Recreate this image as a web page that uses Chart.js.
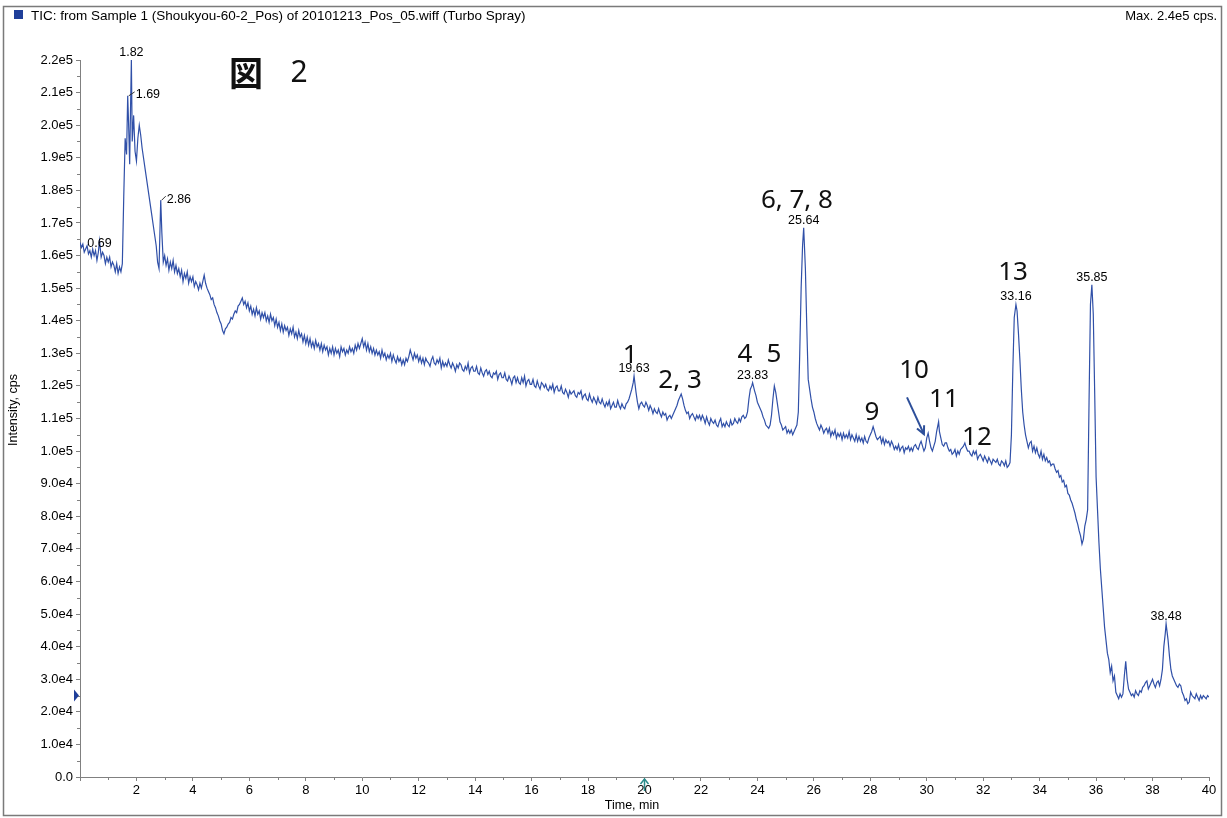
<!DOCTYPE html>
<html><head><meta charset="utf-8">
<script src="https://cdn.jsdelivr.net/npm/chart.js@4.4.1/dist/chart.umd.min.js"></script>
<style>html,body{margin:0;padding:0;background:#fff}#wrap{position:relative;width:1227px;height:818px}</style>
</head><body><div id="wrap"><canvas id="c" width="1227" height="818"></canvas></div>
<script>
// ---- Data (retention time in min, TIC intensity in thousands of cps) ----
const timeMin = [
 0.0,0.05,0.1,0.15,0.2,0.25,0.3,0.35,0.4,0.45,
 0.5,0.55,0.6,0.65,0.69,0.75,0.8,0.85,0.9,0.95,
 1.0,1.05,1.1,1.15,1.2,1.25,1.3,1.35,1.4,1.45,
 1.5,1.55,1.6,1.65,1.69,1.72,1.76,1.79,1.82,1.85,1.9,1.95,
 2.0,2.05,2.1,2.15,2.2,2.25,2.3,2.35,2.4,2.45,
 2.5,2.55,2.6,2.65,2.7,2.75,2.8,2.86,2.9,2.95,
 3.0,3.05,3.1,3.15,3.2,3.25,3.3,3.35,3.4,3.45,
 3.5,3.55,3.6,3.65,3.7,3.75,3.8,3.85,3.9,3.95,
 4.0,4.05,4.1,4.15,4.2,4.25,4.3,4.35,4.4,4.45,
 4.5,4.55,4.6,4.65,4.7,4.75,4.8,4.85,4.9,4.95,
 5.0,5.05,5.1,5.15,5.2,5.25,5.3,5.35,5.4,5.45,
 5.5,5.55,5.6,5.65,5.7,5.75,5.8,5.85,5.9,5.95,
 6.0,6.05,6.1,6.15,6.2,6.25,6.3,6.35,6.4,6.45,
 6.5,6.55,6.6,6.65,6.7,6.75,6.8,6.85,6.9,6.95,
 7.0,7.05,7.1,7.15,7.2,7.25,7.3,7.35,7.4,7.45,
 7.5,7.55,7.6,7.65,7.7,7.75,7.8,7.85,7.9,7.95,
 8.0,8.05,8.1,8.15,8.2,8.25,8.3,8.35,8.4,8.45,
 8.5,8.55,8.6,8.65,8.7,8.75,8.8,8.85,8.9,8.95,
 9.0,9.05,9.1,9.15,9.2,9.25,9.3,9.35,9.4,9.45,
 9.5,9.55,9.6,9.65,9.7,9.75,9.8,9.85,9.9,9.95,
 10.0,10.05,10.1,10.15,10.2,10.25,10.3,10.35,10.4,10.45,
 10.5,10.55,10.6,10.65,10.7,10.75,10.8,10.85,10.9,10.95,
 11.0,11.05,11.1,11.15,11.2,11.25,11.3,11.35,11.4,11.45,
 11.5,11.55,11.6,11.65,11.7,11.75,11.8,11.85,11.9,11.95,
 12.0,12.05,12.1,12.15,12.2,12.25,12.3,12.35,12.4,12.45,
 12.5,12.55,12.6,12.65,12.7,12.75,12.8,12.85,12.9,12.95,
 13.0,13.05,13.1,13.15,13.2,13.25,13.3,13.35,13.4,13.45,
 13.5,13.55,13.6,13.65,13.7,13.75,13.8,13.85,13.9,13.95,
 14.0,14.05,14.1,14.15,14.2,14.25,14.3,14.35,14.4,14.45,
 14.5,14.55,14.6,14.65,14.7,14.75,14.8,14.85,14.9,14.95,
 15.0,15.05,15.1,15.15,15.2,15.25,15.3,15.35,15.4,15.45,
 15.5,15.55,15.6,15.65,15.7,15.75,15.8,15.85,15.9,15.95,
 16.0,16.05,16.1,16.15,16.2,16.25,16.3,16.35,16.4,16.45,
 16.5,16.55,16.6,16.65,16.7,16.75,16.8,16.85,16.9,16.95,
 17.0,17.05,17.1,17.15,17.2,17.25,17.3,17.35,17.4,17.45,
 17.5,17.55,17.6,17.65,17.7,17.75,17.8,17.85,17.9,17.95,
 18.0,18.05,18.1,18.15,18.2,18.25,18.3,18.35,18.4,18.45,
 18.5,18.55,18.6,18.65,18.7,18.75,18.8,18.85,18.9,18.95,
 19.0,19.05,19.1,19.15,19.2,19.25,19.3,19.35,19.4,19.45,
 19.5,19.55,19.6,19.63,19.7,19.75,19.8,19.85,19.9,19.95,
 20.0,20.05,20.1,20.15,20.2,20.25,20.3,20.35,20.4,20.45,
 20.5,20.55,20.6,20.65,20.7,20.75,20.8,20.85,20.9,20.95,
 21.0,21.05,21.1,21.15,21.2,21.25,21.3,21.35,21.4,21.45,
 21.5,21.55,21.6,21.65,21.7,21.75,21.8,21.85,21.9,21.95,
 22.0,22.05,22.1,22.15,22.2,22.25,22.3,22.35,22.4,22.45,
 22.5,22.55,22.6,22.65,22.7,22.75,22.8,22.85,22.9,22.95,
 23.0,23.05,23.1,23.15,23.2,23.25,23.3,23.35,23.4,23.45,
 23.5,23.55,23.6,23.65,23.7,23.75,23.8,23.83,23.9,23.95,
 24.0,24.05,24.1,24.15,24.2,24.25,24.3,24.35,24.4,24.45,
 24.5,24.55,24.6,24.65,24.7,24.75,24.8,24.85,24.9,24.95,
 25.0,25.05,25.1,25.15,25.2,25.25,25.3,25.35,25.4,25.45,
 25.5,25.55,25.6,25.64,25.7,25.75,25.8,25.85,25.9,25.95,
 26.0,26.05,26.1,26.15,26.2,26.25,26.3,26.35,26.4,26.45,
 26.5,26.55,26.6,26.65,26.7,26.75,26.8,26.85,26.9,26.95,
 27.0,27.05,27.1,27.15,27.2,27.25,27.3,27.35,27.4,27.45,
 27.5,27.55,27.6,27.65,27.7,27.75,27.8,27.85,27.9,27.95,
 28.0,28.05,28.1,28.15,28.2,28.25,28.3,28.35,28.4,28.45,
 28.5,28.55,28.6,28.65,28.7,28.75,28.8,28.85,28.9,28.95,
 29.0,29.05,29.1,29.15,29.2,29.25,29.3,29.35,29.4,29.45,
 29.5,29.55,29.6,29.65,29.7,29.75,29.8,29.85,29.9,29.95,
 30.0,30.05,30.1,30.15,30.2,30.25,30.3,30.35,30.42,30.45,
 30.5,30.55,30.6,30.65,30.7,30.75,30.8,30.85,30.9,30.95,
 31.0,31.05,31.1,31.15,31.2,31.25,31.3,31.35,31.4,31.45,
 31.5,31.55,31.6,31.65,31.7,31.75,31.8,31.85,31.9,31.95,
 32.0,32.05,32.1,32.15,32.2,32.25,32.3,32.35,32.4,32.45,
 32.5,32.55,32.6,32.65,32.7,32.75,32.8,32.85,32.9,32.95,
 33.0,33.05,33.1,33.16,33.2,33.25,33.3,33.35,33.4,33.45,
 33.5,33.55,33.6,33.65,33.7,33.75,33.8,33.85,33.9,33.95,
 34.0,34.05,34.1,34.15,34.2,34.25,34.3,34.35,34.4,34.45,
 34.5,34.55,34.6,34.65,34.7,34.75,34.8,34.85,34.9,34.95,
 35.0,35.05,35.1,35.15,35.2,35.25,35.3,35.35,35.4,35.45,
 35.5,35.55,35.6,35.65,35.7,35.75,35.8,35.85,35.9,35.95,
 36.0,36.05,36.1,36.15,36.2,36.25,36.3,36.35,36.4,36.45,
 36.5,36.55,36.6,36.65,36.7,36.75,36.8,36.85,36.9,36.95,
 37.0,37.05,37.1,37.15,37.2,37.25,37.3,37.35,37.4,37.45,
 37.5,37.55,37.6,37.65,37.7,37.75,37.8,37.85,37.9,37.95,
 38.0,38.05,38.1,38.15,38.2,38.25,38.3,38.35,38.4,38.45,
 38.48,38.55,38.6,38.65,38.7,38.75,38.8,38.85,38.9,38.95,
 39.0,39.05,39.1,39.15,39.2,39.25,39.3,39.35,39.4,39.45,
 39.5,39.55,39.6,39.65,39.7,39.75,39.8,39.85,39.9,39.95,
 40.0
];
const ticKcps = [
 164,162.5,163.5,161,162,163,160.5,161.5,159.5,162,
 160,161.5,158.5,161,164.5,159.5,161,160,157.5,159.5,
 158,159.5,156.5,158,157,155,157.5,154.5,156.5,155,
 157.5,178,196,191,209,201,188,205,220,195,203,192,
 189,196,200,197,193,190,187,184,181,178,
 175,172,169,166,163,158,156,177,167,158,
 160,157,159,155.5,158,156,158.5,155,157,154.5,
 156,153.5,155.5,152,154.5,153,155,151.5,153.5,152,
 153.5,150.5,152,151,149.5,151.5,150,152,154,151.5,
 150,149,148,146.5,147,145,144,142.5,141.5,140,
 139,137,136,137.5,138,139,139.5,141,140.5,142,
 143,142.5,144.5,145,146,147,145,146,144,145.5,
 143,144.5,142,143.5,141.5,144,142,143,140.5,142.5,
 141,142.5,140,141.5,139.5,142,140,141,138.5,140.5,
 138,139.5,137,139,136.5,138.5,137,138,135.5,137.5,
 136,138,135,136.5,134.5,137,135,136,133.5,135.5,
 133,135,132.5,134.5,132,133.5,131.5,134,132,133,
 131,133,130.5,132.5,131,132,129.5,131.5,130,132,
 129.5,131.5,130,131,129,132,130.5,131.5,129.5,131,
 130,132,130.5,131.5,130,132.5,131,133,131.5,133,
 134.5,132,133.5,131,133,130.5,132,130,131.5,129.5,
 131,129.5,130.5,128.5,131,129,130,128,129.5,128.5,
 130,127.5,129.5,128,127,129,127.5,128.5,126.5,128,
 126.5,128.5,127.5,129,131,129.5,128,130,128.5,129.5,
 127.5,129,127,128.5,126.5,128.5,127.5,127,126,128,
 129,127,126.5,128,127,128.5,125.5,127.5,126,127,
 126,128,126.5,125.5,127,126,124.5,126.5,125.5,127,
 126.5,125,124.5,126,125,127,124,125.5,126,124.5,
 124.5,126,124,123.5,125.5,124,123,124.5,125,123.5,
 124.5,123,122.5,124,123.5,124.5,122,123.5,124,122.5,
 122.5,124,122,121.5,123,122,120.5,122.5,123,121,
 122.5,121,120.5,122.5,121,123,120,121.5,122,120.5,
 120.5,122,120,119.5,121.5,120,119,121,120.5,119.5,
 120.5,119,118.5,120,119,120.5,118,119.5,120,118.5,
 118.5,120,118,117.5,119,118,116.5,118.5,117.5,118,
 118.5,117,116.5,118,117.5,118.5,116,117,117.5,116,
 115.5,117.5,116,115,116.5,115.5,114.5,116.5,115,114.5,
 116,114.5,113.5,115,114,115.5,113,114,115,113.5,
 113.5,115.5,114,113,114.5,113.5,113,114.5,115,116,
 117.5,119,121,123,118,115,113,114.5,115,114,
 113.5,115,114,112.5,114,113,111.5,113,112,111.5,
 113,111.5,110.5,112,111,111.5,109.5,110.5,111,110,
 111,112,113,114,115.5,116.5,117.5,116,114,112.5,
 111.5,112,110,111,111.5,110.5,109.5,111,110,111,
 109.5,111,110,108.5,110.5,109,108,110,109,108.5,
 109.5,108,107.5,109,110,107.5,108.5,107.5,109,108,
 107.5,109.5,108,108.5,110,109,108.5,110,109,110.5,
 111,110,110.5,112,116,119,120,121,118.5,117,
 115,114,113,112,110.5,109.5,108,107.5,107,108,
 111,116,120,118,115,112,109,108,106.5,107,
 107.5,105.5,106.5,105.5,106.5,105,106,107,108,112,
 130,150,163,168.5,156,138,122,119,116,113.5,
 112,110,108.5,107.5,106.5,108,107,105.5,106.5,107,
 105.5,107,104.5,106,105,106.5,104,105.5,104.5,105.5,
 103.5,105.5,104,105,104,106,103.5,105,104,103,
 105,103,104.5,103,104,102.5,104.5,103,102.5,104,
 105,106,107.5,106,104.5,103.5,104,104.5,102.5,104,
 102,103.5,102.5,103,101.5,103,102,100.5,101.5,100.5,
 102,100,101,101.5,99.5,101,100.5,101.5,100,101,
 100,101.5,102,101,100.5,102,103,101.5,100,101,
 104,105.5,103,101,100,101.5,103,106,109,106,
 104,102,101.5,102.5,102.5,101,100,100.5,99,99.5,
 100.5,98.5,100,99,100.5,101,101.5,102.5,101,100,
 100,99,98.5,100,99,100,97.5,98.5,99,98,
 97,98.5,97.5,96.5,98,97,96,97.5,97,96.5,
 97.5,96,95.5,97,96.5,95.5,97,95,95.5,96.5,
 105,125,141,145,143,136,128,119,112,108,
 105,103,101,102.5,103,100,101.5,99.5,101,99,
 98,100,97.5,99,97,98,96.5,97,95.5,96,
 96,94.5,93.5,94,92,92.5,90.5,91,89,89.5,
 87,86.5,85,84,82.5,81,79,77.5,75.5,74,
 71.5,73,77,79,82,115,145,151,142,118,
 92,82,72,64,58,52,46,42,38,36,
 32,34,29.5,31,26,25,24,25.5,24.5,25.5,
 31,35.5,30,27,26,25,25.5,24.5,26.5,25.5,
 25,26.5,26,27.5,28,29,29.5,27,28,29,
 30,28.5,27.5,29,29.5,28,30,33,40,44,
 47,42,37,33,31,30,29,28,27.5,28.5,
 28,26,25,23.5,24,22.5,23,26,25,24.5,
 24,25.5,24.5,23.5,25,24,25,24.5,24,25,
 24.5
];
// labelled apex retention times
const apexTimes = [0.69, 1.69, 1.82, 2.86, 19.63, 23.83, 25.64, 33.16, 35.85, 38.48];
// compound numbers written on the figure, anchored in data units (min, kcps)
const compoundText = ['1', '2, 3', '4', '5', '6, 7, 8', '9', '10', '11', '12', '13'];
const compoundT    = [19.49, 21.26, 23.56, 24.59, 25.40, 28.06, 29.55, 30.61, 31.78, 33.06];
const compoundV    = [129.4, 121.7, 129.7, 129.7, 176.9, 111.9, 124.8, 115.9, 104.2, 154.8];
// arrow for peak 10 (min, kcps)
const arrowFrom = [29.30, 116.5];
const arrowTo   = [29.90, 105.2];

// ---- styles ----
const LINE_COLOR = '#3050a8';
const AXIS_COLOR = '#808080';
const apexStyle = { // dx, dy(baseline offset), align, leader
  '0.69': [0, 6, 'center', false], '1.69': [8, 2, 'left', true], '2.86': [6, 3, 'left', true]
};

const points = timeMin.map((t, i) => ({x: t, y: ticKcps[i] * 1000}));

function fmtY(v) {
  if (v === 0) return '0.0';
  return v.toExponential(1).replace('+', '');
}

const decor = {
  id: 'decor',
  afterDraw(chart) {
    const {ctx} = chart; const x = chart.scales.x, y = chart.scales.y;
    ctx.save();
    // minor ticks
    ctx.strokeStyle = AXIS_COLOR; ctx.lineWidth = 1;
    for (let v = 5000; v < 220000; v += 10000) {
      const py = Math.round(y.getPixelForValue(v)) + 0.5;
      ctx.beginPath(); ctx.moveTo(x.left - 3, py); ctx.lineTo(x.left, py); ctx.stroke();
    }
    for (let t = 1; t < 40; t += 2) {
      const px = Math.round(x.getPixelForValue(t)) + 0.5;
      ctx.beginPath(); ctx.moveTo(px, y.bottom); ctx.lineTo(px, y.bottom + 3); ctx.stroke();
    }
    // outer frame
    ctx.strokeStyle = '#7a7a7a'; ctx.lineWidth = 1.5;
    ctx.strokeRect(3.5, 6.5, 1218, 809);
    // header
    ctx.fillStyle = '#1f3f9a'; ctx.fillRect(14, 10, 9, 9);
    ctx.fillStyle = '#000'; ctx.font = '13.5px "Liberation Sans", Arial, sans-serif';
    ctx.textBaseline = 'middle'; ctx.textAlign = 'left';
    ctx.fillText('TIC: from Sample 1 (Shoukyou-60-2_Pos) of 20101213_Pos_05.wiff (Turbo Spray)', 31, 16);
    ctx.textAlign = 'right';
    ctx.font = '13px "Liberation Sans", Arial, sans-serif';
    ctx.fillText('Max. 2.4e5 cps.', 1217, 16);
    // axis titles
    ctx.font = '12.5px "Liberation Sans", Arial, sans-serif';
    ctx.textAlign = 'center';
    ctx.fillText('Time, min', 632, 806);
    ctx.save(); ctx.translate(14, 410); ctx.rotate(-Math.PI / 2);
    ctx.fillText('Intensity, cps', 0, 0); ctx.restore();
    // left marker triangle & time marker
    ctx.fillStyle = '#1f3f9a';
    const my = y.getPixelForValue(25000);
    ctx.beginPath(); ctx.moveTo(74, my - 6); ctx.lineTo(79, my); ctx.lineTo(74, my + 6); ctx.closePath(); ctx.fill();
    const mx = x.getPixelForValue(20);
    ctx.strokeStyle = '#2a8a8a'; ctx.lineWidth = 1.5;
    ctx.beginPath(); ctx.moveTo(mx, y.bottom + 2); ctx.lineTo(mx, y.bottom + 14); ctx.stroke();
    ctx.beginPath(); ctx.moveTo(mx - 4, y.bottom + 7); ctx.lineTo(mx, y.bottom + 2); ctx.lineTo(mx + 4, y.bottom + 7); ctx.stroke();
    // apex labels
    ctx.fillStyle = '#000'; ctx.font = '12.5px "Liberation Sans", Arial, sans-serif';
    ctx.textBaseline = 'alphabetic';
    ctx.strokeStyle = '#333'; ctx.lineWidth = 1;
    apexTimes.forEach(t => {
      const i = timeMin.indexOf(t);
      const px = x.getPixelForValue(t), py = y.getPixelForValue(ticKcps[i] * 1000);
      const st = apexStyle[String(t)] || [0, -4, 'center', false];
      ctx.textAlign = st[2];
      ctx.fillText(t.toFixed(2), px + st[0], py + st[1]);
      if (st[3]) {
        ctx.beginPath(); ctx.moveTo(px + 1, py); ctx.lineTo(px + st[0] - 1, py - 4); ctx.stroke();
      }
    });
    // compound numbers
    ctx.font = '26px "Noto Sans", "Open Sans", sans-serif';
    ctx.textAlign = 'center'; ctx.textBaseline = 'middle'; ctx.fillStyle = '#111';
    compoundText.forEach((s, i) => {
      ctx.fillText(s, x.getPixelForValue(compoundT[i]), y.getPixelForValue(compoundV[i] * 1000));
    });
    // figure title
    ctx.font = 'bold 34px "Noto Sans CJK JP", sans-serif';
    ctx.fillText('図', 246, 73);
    ctx.font = '30px "Noto Sans", sans-serif';
    ctx.fillText('2', 299, 73);
    // arrow for 10
    const ax0 = x.getPixelForValue(arrowFrom[0]), ay0 = y.getPixelForValue(arrowFrom[1] * 1000);
    const ax1 = x.getPixelForValue(arrowTo[0]), ay1 = y.getPixelForValue(arrowTo[1] * 1000);
    ctx.strokeStyle = '#2d4f9a'; ctx.lineWidth = 2;
    ctx.beginPath(); ctx.moveTo(ax0, ay0); ctx.lineTo(ax1, ay1); ctx.stroke();
    const ang = Math.atan2(ay1 - ay0, ax1 - ax0);
    ctx.beginPath();
    ctx.moveTo(ax1 - 9 * Math.cos(ang - 0.45), ay1 - 9 * Math.sin(ang - 0.45));
    ctx.lineTo(ax1, ay1);
    ctx.lineTo(ax1 - 9 * Math.cos(ang + 0.45), ay1 - 9 * Math.sin(ang + 0.45));
    ctx.stroke();
    ctx.restore();
  }
};

new Chart(document.getElementById('c'), {
  type: 'line',
  data: { datasets: [{ data: points, borderColor: LINE_COLOR, borderWidth: 1.2, pointRadius: 0, tension: 0, fill: false }] },
  options: {
    responsive: false, animation: false, devicePixelRatio: 1,
    layout: { padding: { left: 0, top: 60, right: 18, bottom: 0 } },
    plugins: { legend: { display: false }, tooltip: { enabled: false } },
    scales: {
      x: {
        type: 'linear', min: 0, max: 40,
        ticks: { stepSize: 2, autoSkip: false, maxRotation: 0, padding: 2, color: '#000',
                 font: { family: '"Liberation Sans", Arial, sans-serif', size: 13 },
                 callback: v => v === 0 ? '' : String(v) },
        grid: { drawOnChartArea: false, drawTicks: true, tickLength: 4, color: AXIS_COLOR },
        border: { display: true, color: AXIS_COLOR, width: 1 },
        afterFit: s => { s.height = 41; }
      },
      y: {
        min: 0, max: 220000,
        ticks: { stepSize: 10000, autoSkip: false, padding: 3, color: '#000',
                 font: { family: '"Liberation Sans", Arial, sans-serif', size: 13 },
                 callback: v => fmtY(v) },
        grid: { drawOnChartArea: false, drawTicks: true, tickLength: 4, color: AXIS_COLOR },
        border: { display: true, color: AXIS_COLOR, width: 1 },
        afterFit: s => { s.width = 80; }
      }
    }
  },
  plugins: [decor]
});
</script></body></html>
